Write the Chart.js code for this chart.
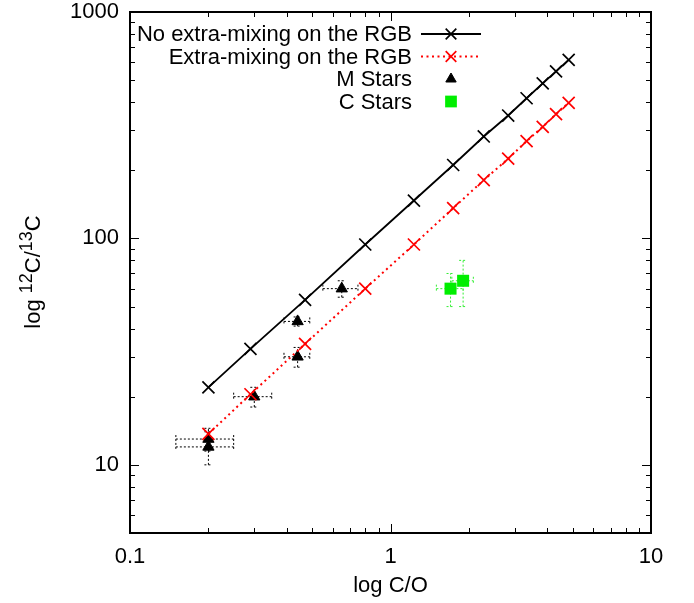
<!DOCTYPE html>
<html>
<head>
<meta charset="utf-8">
<script src="https://cdn.jsdelivr.net/npm/chart.js@4"></script>
<style>
  html, body { margin: 0; padding: 0; background: #fff; }
  canvas { display: block; }
</style>
</head>
<body>
<canvas id="chart" width="694" height="603"></canvas>
<script>
/* ----------------------------- */
/* DATA                          */
/* ----------------------------- */
const modelCO = [0.2, 0.29, 0.47, 0.8, 1.23, 1.74, 2.28, 2.83, 3.33, 3.84, 4.32, 4.83];
const noMixRatio = [22, 32.5, 53.5, 94, 147, 211, 282, 349, 416, 484, 547, 615];
const extraMixRatio = [13.7, 20.5, 34.2, 60, 94, 136, 181, 225, 269, 311, 354, 397];

const mStarCO = [0.2, 0.2, 0.3, 0.44, 0.44, 0.65];
const mStarRatio = [13, 12, 20, 30, 43, 60];
const mStarCOErr = [0.05, 0.05, 0.05, 0.05, 0.05, 0.1];
const mStarRatioErr = [1.5, 2, 2, 3, 2, 5];

const cStarCO = [1.7, 1.9];
const cStarRatio = [60, 65];
const cStarCOErr = [0.2, 0.18];
const cStarRatioErr = [10, 15];

const xTickValues = [0.1, 1, 10];
const yTickValues = [10, 100, 1000];

const legendLabels = [
  "No extra-mixing on the RGB",
  "Extra-mixing on the RGB",
  "M Stars",
  "C Stars",
];

/* ----------------------------- */
/* HELPERS                       */
/* ----------------------------- */
const FONT = "'Liberation Sans', Arial, Helvetica, sans-serif";
const toPoints = (xs, ys) => xs.map((x, i) => ({ x: x, y: ys[i] }));

// 1..9 x 10^n between min and max, decades flagged as major
const logTicks = (min, max) => {
  const list = [];
  for (let d = Math.floor(Math.log10(min)); d <= Math.ceil(Math.log10(max)); d++) {
    for (let m = 1; m < 10; m++) {
      const v = m * Math.pow(10, d);
      if (v >= min * 0.999 && v <= max * 1.001) list.push({ v: v, major: m === 1 });
    }
  }
  return list;
};

/* ----------------------------- */
/* PLUGINS                       */
/* ----------------------------- */
// frame with inward ticks on all four sides + axis titles
const framePlugin = {
  id: "frame",
  afterDraw(chart) {
    const { ctx, chartArea: a, scales } = chart;
    ctx.save();
    ctx.strokeStyle = "#000";
    ctx.lineWidth = 1;
    logTicks(scales.x.min, scales.x.max).forEach((t) => {
      const px = Math.round(scales.x.getPixelForValue(t.v)) + 0.5;
      const len = t.major ? 9 : 5;
      ctx.beginPath();
      ctx.moveTo(px, a.bottom); ctx.lineTo(px, a.bottom - len);
      ctx.moveTo(px, a.top); ctx.lineTo(px, a.top + len);
      ctx.stroke();
    });
    logTicks(scales.y.min, scales.y.max).forEach((t) => {
      const py = Math.round(scales.y.getPixelForValue(t.v)) + 0.5;
      const len = t.major ? 9 : 5;
      ctx.beginPath();
      ctx.moveTo(a.left, py); ctx.lineTo(a.left + len, py);
      ctx.moveTo(a.right, py); ctx.lineTo(a.right - len, py);
      ctx.stroke();
    });
    ctx.lineWidth = 2;
    ctx.strokeRect(a.left, a.top, a.right - a.left, a.bottom - a.top);

    ctx.fillStyle = "#000";
    ctx.font = "22px " + FONT;
    ctx.textAlign = "center";
    ctx.textBaseline = "alphabetic";
    ctx.fillText("log C/O", (a.left + a.right) / 2, 592);

    // y title: log 12C/13C with raised isotope numbers
    const parts = [
      { t: "log ", sup: false },
      { t: "12", sup: true },
      { t: "C/", sup: false },
      { t: "13", sup: true },
      { t: "C", sup: false },
    ];
    const widths = parts.map((p) => {
      ctx.font = (p.sup ? "18px " : "22px ") + FONT;
      return ctx.measureText(p.t).width;
    });
    const total = widths.reduce((s, w) => s + w, 0);
    ctx.translate(40, 272);
    ctx.rotate(-Math.PI / 2);
    ctx.textAlign = "left";
    let cx = -total / 2;
    parts.forEach((p, i) => {
      ctx.font = (p.sup ? "18px " : "22px ") + FONT;
      ctx.fillText(p.t, cx, p.sup ? -8 : 0);
      cx += widths[i];
    });
    ctx.restore();
  },
};

// dotted x/y error bars under the markers
const errorBarPlugin = {
  id: "errorBars",
  beforeDatasetsDraw(chart) {
    const { ctx, scales } = chart;
    ctx.save();
    ctx.lineWidth = 1;
    ctx.setLineDash([2, 2]);
    chart.data.datasets.forEach((ds) => {
      if (!ds.xErr) return;
      ctx.strokeStyle = ds.errColor;
      ds.data.forEach((pt, i) => {
        const px = scales.x.getPixelForValue(pt.x);
        const py = scales.y.getPixelForValue(pt.y);
        const x0 = scales.x.getPixelForValue(pt.x - ds.xErr[i]);
        const x1 = scales.x.getPixelForValue(pt.x + ds.xErr[i]);
        const y0 = scales.y.getPixelForValue(pt.y - ds.yErr[i]);
        const y1 = scales.y.getPixelForValue(pt.y + ds.yErr[i]);
        const cap = 4;
        ctx.beginPath();
        ctx.moveTo(x0, py); ctx.lineTo(x1, py);
        ctx.moveTo(x0, py - cap); ctx.lineTo(x0, py + cap);
        ctx.moveTo(x1, py - cap); ctx.lineTo(x1, py + cap);
        ctx.moveTo(px, y0); ctx.lineTo(px, y1);
        ctx.moveTo(px - cap, y0); ctx.lineTo(px + cap, y0);
        ctx.moveTo(px - cap, y1); ctx.lineTo(px + cap, y1);
        ctx.stroke();
      });
    });
    ctx.restore();
  },
};

// gnuplot-like key: right aligned text, sample to the right
const keyPlugin = {
  id: "key",
  afterDatasetsDraw(chart) {
    const { ctx } = chart;
    const textRight = 412;
    const sampleLeft = 421;
    const sampleRight = 481;
    const rowY = [34, 56.5, 79, 101.5];
    chart.data.datasets.forEach((ds, i) => {
      const y = rowY[i];
      ctx.save();
      ctx.fillStyle = "#000";
      ctx.font = "22px " + FONT;
      ctx.textAlign = "right";
      ctx.textBaseline = "middle";
      ctx.fillText(legendLabels[i], textRight, y + 1);
      if (ds.showLine) {
        ctx.strokeStyle = ds.borderColor;
        ctx.lineWidth = ds.borderWidth;
        ctx.setLineDash(ds.borderDash || []);
        ctx.beginPath();
        ctx.moveTo(sampleLeft, y); ctx.lineTo(sampleRight, y);
        ctx.stroke();
        ctx.setLineDash([]);
      }
      ctx.fillStyle = ds.pointBackgroundColor;
      ctx.strokeStyle = ds.pointBorderColor;
      ctx.lineWidth = ds.pointBorderWidth;
      Chart.helpers.drawPoint(ctx, {
        pointStyle: ds.pointStyle,
        radius: ds.keyRadius,
        rotation: 0,
        borderWidth: ds.pointBorderWidth,
      }, (sampleLeft + sampleRight) / 2, y);
      ctx.restore();
    });
  },
};

/* ----------------------------- */
/* CHART                         */
/* ----------------------------- */
const datasets = [
  {
    label: legendLabels[0],
    data: toPoints(modelCO, noMixRatio),
    showLine: true,
    borderColor: "#000",
    borderWidth: 1.8,
    pointStyle: "crossRot",
    pointRadius: 8.5,
    keyRadius: 7.5,
    pointBorderColor: "#000",
    pointBackgroundColor: "#000",
    pointBorderWidth: 1.7,
  },
  {
    label: legendLabels[1],
    data: toPoints(modelCO, extraMixRatio),
    showLine: true,
    borderColor: "#ff0000",
    borderWidth: 2,
    borderDash: [2, 3.5],
    pointStyle: "crossRot",
    pointRadius: 8.5,
    keyRadius: 7.5,
    pointBorderColor: "#ff0000",
    pointBackgroundColor: "#ff0000",
    pointBorderWidth: 1.7,
  },
  {
    label: legendLabels[2],
    data: toPoints(mStarCO, mStarRatio),
    showLine: false,
    pointStyle: "triangle",
    pointRadius: 6.5,
    keyRadius: 6,
    pointBorderColor: "#000",
    pointBackgroundColor: "#000",
    pointBorderWidth: 1,
    xErr: mStarCOErr,
    yErr: mStarRatioErr,
    errColor: "#000",
  },
  {
    label: legendLabels[3],
    data: toPoints(cStarCO, cStarRatio),
    showLine: false,
    pointStyle: "rect",
    pointRadius: 8.5,
    keyRadius: 8.3,
    pointBorderColor: "#00ee00",
    pointBackgroundColor: "#00ee00",
    pointBorderWidth: 0,
    xErr: cStarCOErr,
    yErr: cStarRatioErr,
    errColor: "#33ee33",
  },
];

const tickFont = { family: FONT, size: 22 };

const chart = new Chart(document.getElementById("chart"), {
  type: "scatter",
  data: { datasets: datasets },
  options: {
    responsive: false,
    animation: false,
    events: [],
    layout: { padding: { top: 12, right: 43, bottom: 0, left: 0 } },
    plugins: { legend: { display: false }, tooltip: { enabled: false } },
    scales: {
      x: {
        type: "logarithmic",
        min: 0.1,
        max: 10,
        afterBuildTicks: (s) => { s.ticks = xTickValues.map((v) => ({ value: v })); },
        afterFit: (s) => { s.height = 70; s.paddingLeft = 0; s.paddingRight = 0; },
        grid: { display: false, drawTicks: false },
        border: { display: false },
        ticks: {
          color: "#000",
          font: tickFont,
          padding: 11,
          maxRotation: 0,
          autoSkip: false,
          callback: (v) => String(v),
        },
      },
      y: {
        type: "logarithmic",
        min: 5,
        max: 1000,
        afterBuildTicks: (s) => { s.ticks = yTickValues.map((v) => ({ value: v })); },
        afterFit: (s) => { s.width = 130; s.paddingTop = 0; s.paddingBottom = 0; },
        grid: { display: false, drawTicks: false },
        border: { display: false },
        ticks: {
          color: "#000",
          font: tickFont,
          padding: 11,
          autoSkip: false,
          callback: (v) => String(v),
        },
      },
    },
  },
  plugins: [errorBarPlugin, framePlugin, keyPlugin],
});
</script>
</body>
</html>
